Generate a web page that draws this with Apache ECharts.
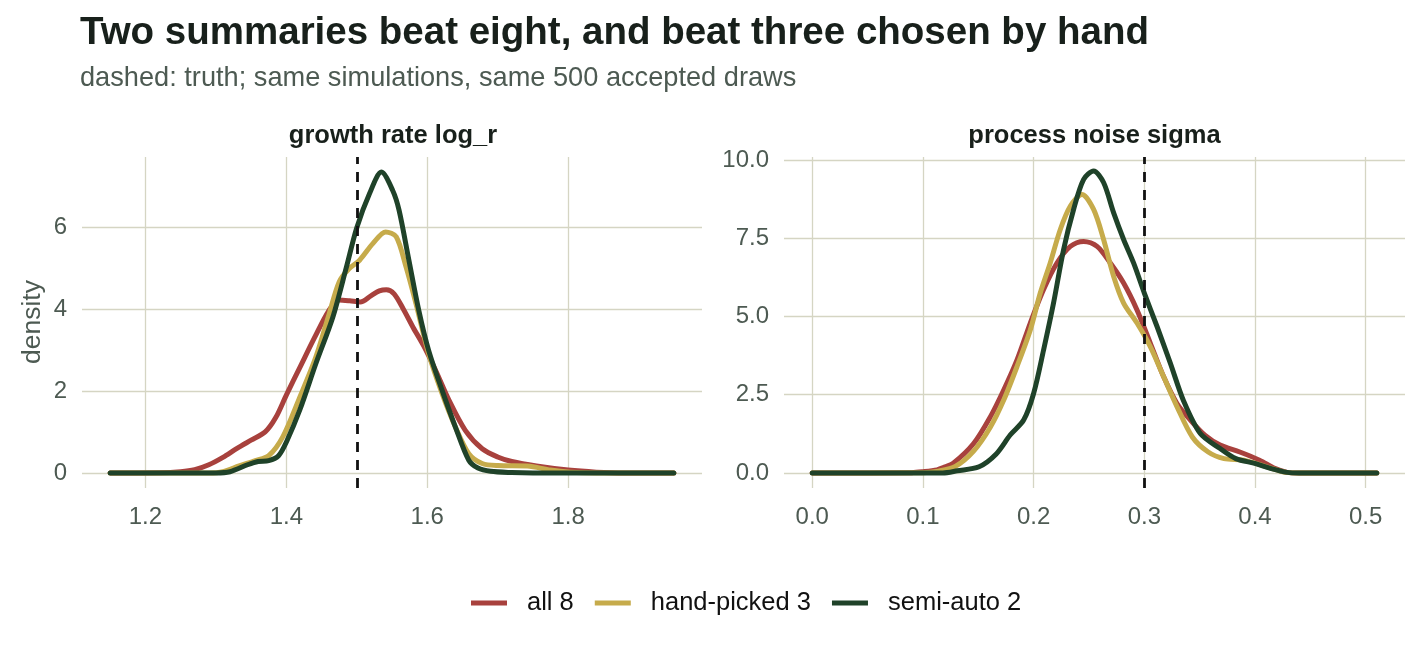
<!DOCTYPE html>
<html>
<head>
<meta charset="utf-8">
<title>ABC posterior densities</title>
<script src="https://cdn.jsdelivr.net/npm/echarts@6/dist/echarts.min.js"></script>
<style>
  html, body { margin: 0; padding: 0; background: #ffffff; }
  #chart { width: 1420px; height: 652px; }
</style>
</head>
<body>
<div id="chart"></div>
<script>
// series names (legend order)
const seriesNames = ['all 8', 'hand-picked 3', 'semi-auto 2'];
const seriesColors = ['#a8413d', '#c6ab4b', '#1f4229'];

// panel 1: growth rate log_r, [value, density]
const logrAll8 = [[1.15,0],[1.22,0.005],[1.25,0.03],[1.27,0.08],[1.29,0.2],[1.31,0.38],[1.33,0.6],[1.35,0.8],[1.37,1.0],[1.385,1.35],[1.40,1.9],[1.42,2.6],[1.44,3.3],[1.46,3.95],[1.475,4.22],[1.49,4.2],[1.505,4.17],[1.52,4.32],[1.532,4.44],[1.542,4.47],[1.553,4.37],[1.566,4.0],[1.58,3.55],[1.595,3.1],[1.612,2.5],[1.631,1.77],[1.654,1.04],[1.678,0.59],[1.70,0.39],[1.72,0.28],[1.755,0.17],[1.80,0.07],[1.84,0.02],[1.88,0],[1.95,0]];
const logrHand3 = [[1.15,0],[1.29,0],[1.31,0.03],[1.333,0.17],[1.356,0.3],[1.375,0.42],[1.395,0.88],[1.418,1.8],[1.442,2.83],[1.461,3.89],[1.475,4.66],[1.489,4.98],[1.504,5.19],[1.523,5.6],[1.541,5.88],[1.556,5.76],[1.57,5.02],[1.584,4.13],[1.602,2.91],[1.621,1.94],[1.64,1.12],[1.659,0.47],[1.678,0.23],[1.70,0.18],[1.742,0.17],[1.775,0.07],[1.803,0.02],[1.84,0],[1.95,0]];
const logrSemi2 = [[1.15,0],[1.30,0],[1.32,0.03],[1.345,0.2],[1.36,0.28],[1.375,0.3],[1.389,0.42],[1.40,0.75],[1.419,1.53],[1.442,2.67],[1.466,3.8],[1.485,5.0],[1.50,5.98],[1.518,6.81],[1.535,7.34],[1.551,6.89],[1.56,6.41],[1.574,5.19],[1.588,3.97],[1.602,2.99],[1.621,2.02],[1.64,1.12],[1.659,0.31],[1.672,0.12],[1.69,0.04],[1.72,0.01],[1.75,0],[1.95,0]];

// panel 2: process noise sigma, [value, density]
const sigmaAll8 = [[0,0],[0.09,0.01],[0.10,0.04],[0.1127,0.1],[0.1184,0.17],[0.1277,0.32],[0.1458,0.94],[0.161,1.8],[0.173,2.65],[0.185,3.61],[0.197,4.79],[0.209,5.86],[0.2211,6.71],[0.2332,7.24],[0.2452,7.40],[0.2573,7.24],[0.2693,6.71],[0.2813,6.07],[0.2934,5.21],[0.3054,4.15],[0.3174,3.08],[0.3295,2.22],[0.3416,1.69],[0.355,1.2],[0.3685,0.89],[0.3863,0.67],[0.4041,0.41],[0.4184,0.14],[0.429,0.02],[0.44,0],[0.51,0]];
const sigmaHand3 = [[0,0],[0.10,0.01],[0.114,0.06],[0.1293,0.21],[0.1458,0.7],[0.161,1.47],[0.173,2.33],[0.185,3.4],[0.197,4.57],[0.206,5.75],[0.215,6.71],[0.2241,7.78],[0.2332,8.53],[0.2437,8.9],[0.2542,8.42],[0.2632,7.46],[0.2723,6.28],[0.2813,5.43],[0.2934,4.79],[0.3054,4.04],[0.3174,3.08],[0.3295,2.12],[0.3434,1.15],[0.3577,0.67],[0.372,0.46],[0.3899,0.41],[0.4113,0.19],[0.428,0.02],[0.44,0],[0.51,0]];
const sigmaSemi2 = [[0,0],[0.118,0],[0.131,0.07],[0.1507,0.2],[0.166,0.6],[0.179,1.22],[0.191,1.69],[0.2,2.54],[0.209,3.93],[0.218,5.43],[0.2271,7.14],[0.2361,8.42],[0.2452,9.38],[0.2542,9.65],[0.2632,9.28],[0.2723,8.31],[0.2813,7.46],[0.2903,6.71],[0.30,5.75],[0.3115,4.68],[0.3235,3.51],[0.3355,2.3],[0.3506,1.26],[0.3685,0.78],[0.3827,0.46],[0.4006,0.3],[0.4147,0.14],[0.429,0.02],[0.44,0],[0.51,0]];

// true parameter values (dashed lines)
const truthValues = [1.5, 0.3];

// tick labels
const logrTicksX = [1.2, 1.4, 1.6, 1.8];
const logrTicksY = [0, 2, 4, 6];
const sigmaTicksX = [0, 0.1, 0.2, 0.3, 0.4, 0.5];
const sigmaTicksY = [0, 2.5, 5, 7.5, 10];

const panelTitles = ['growth rate log_r', 'process noise sigma'];

window.onload = function () {
    const chart = echarts.init(document.getElementById('chart'));

    const FONT = '"Liberation Sans", Arial, Helvetica, sans-serif';
    const gridColor = '#d5d5c3';
    const tickColor = '#4d5a52';

    // ggplot style axis: custom ticks, no lines
    function makeAxis(gridIndex, min, max, ticks, fmt, isX) {
        return {
            type: 'value',
            gridIndex: gridIndex,
            min: min,
            max: max,
            axisLine: {show: false},
            axisTick: {show: false, customValues: ticks},
            axisLabel: {
                customValues: ticks,
                formatter: fmt,
                color: tickColor,
                fontSize: 24,
                fontFamily: FONT,
                margin: isX ? 17 : 15
            },
            splitLine: {show: true, lineStyle: {color: gridColor, width: 1.3}}
        };
    }

    const fmt1 = function (v) { return Number(v).toFixed(1); };
    const fmt0 = function (v) { return String(Math.round(v)); };

    const panels = [
        [logrAll8, logrHand3, logrSemi2],
        [sigmaAll8, sigmaHand3, sigmaSemi2]
    ];

    let series = [];
    panels.forEach(function (sets, p) {
        sets.forEach(function (data, k) {
            let s = {
                name: seriesNames[k],
                type: 'line',
                xAxisIndex: p,
                yAxisIndex: p,
                data: data,
                smooth: 0.3,
                showSymbol: false,
                symbol: 'none',
                z: 3 + k,
                lineStyle: {color: seriesColors[k], width: 5, cap: 'round', join: 'round'},
                itemStyle: {color: seriesColors[k]}
            };
            if (k === 2) {
                s.markLine = {
                    silent: true,
                    symbol: ['none', 'none'],
                    label: {show: false},
                    z: 10,
                    lineStyle: {color: '#111111', type: [10, 8], width: 2.8},
                    data: [{xAxis: truthValues[p]}]
                };
            }
            series.push(s);
        });
    });

    let option = {
        backgroundColor: '#ffffff',
        animation: false,
        grid: [
            {left: 82, top: 157, width: 620, height: 331},
            {left: 784, top: 157, width: 621, height: 331}
        ],
        xAxis: [
            makeAxis(0, 1.11, 1.99, logrTicksX, fmt1, true),
            makeAxis(1, -0.0255, 0.5355, sigmaTicksX, fmt1, true)
        ],
        yAxis: [
            makeAxis(0, -0.367, 7.707, logrTicksY, fmt0, false),
            makeAxis(1, -0.48, 10.096, sigmaTicksY, fmt1, false)
        ],
        legend: {
            data: seriesNames,
            left: 466,
            top: 585,
            icon: 'rect',
            itemWidth: 36,
            itemHeight: 5,
            itemGap: 21,
            selectedMode: false,
            textStyle: {
                color: '#111111',
                fontSize: 25.5,
                fontFamily: FONT,
                padding: [0, 0, 0, 15]
            }
        },
        graphic: [
            {
                type: 'text', x: 80, y: 33,
                style: {
                    text: 'Two summaries beat eight, and beat three chosen by hand',
                    font: 'bold 38.5px ' + FONT, fill: '#18201b',
                    textAlign: 'left', textVerticalAlign: 'middle'
                }
            },
            {
                type: 'text', x: 80, y: 79,
                style: {
                    text: 'dashed: truth; same simulations, same 500 accepted draws',
                    font: '27.2px ' + FONT, fill: '#4d5a52',
                    textAlign: 'left', textVerticalAlign: 'middle'
                }
            },
            {
                type: 'text', x: 393, y: 136,
                style: {
                    text: panelTitles[0],
                    font: 'bold 25.5px ' + FONT, fill: '#18201b',
                    textAlign: 'center', textVerticalAlign: 'middle'
                }
            },
            {
                type: 'text', x: 1094.5, y: 136,
                style: {
                    text: panelTitles[1],
                    font: 'bold 25.5px ' + FONT, fill: '#18201b',
                    textAlign: 'center', textVerticalAlign: 'middle'
                }
            },
            {
                type: 'text', x: 33, y: 322, rotation: Math.PI / 2,
                style: {
                    text: 'density',
                    font: '26.5px ' + FONT, fill: '#4d5a52',
                    textAlign: 'center', textVerticalAlign: 'middle'
                }
            }
        ],
        series: series
    };

    if (option && typeof option == "object") {
        chart.setOption(option, true);
    }
};
</script>
</body>
</html>
